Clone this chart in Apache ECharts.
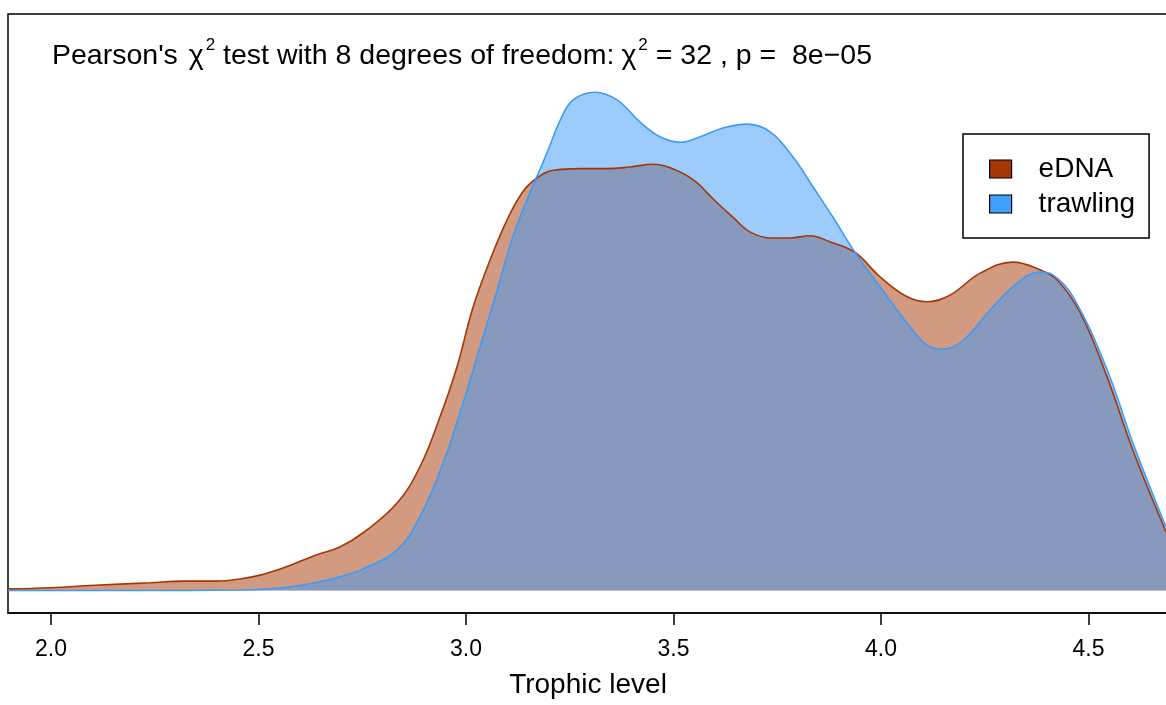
<!DOCTYPE html>
<html>
<head>
<meta charset="utf-8">
<script src="https://cdn.jsdelivr.net/npm/echarts@6/dist/echarts.min.js"></script>
<style>
html,body{margin:0;padding:0;background:#fff;}
#chart{width:1166px;height:705px;}
</style>
</head>
<body>
<div id="chart"></div>
<script>
// ---- data (trophic level vs density estimate) ----
var ednaX = [1.896, 1.998, 2.118, 2.239, 2.318, 2.400, 2.455, 2.504, 2.559, 2.641, 2.696, 2.752, 2.834, 2.889, 2.937, 2.978, 3.017, 3.058, 3.099, 3.137, 3.171, 3.210, 3.275, 3.340, 3.395, 3.451, 3.516, 3.557, 3.581, 3.605, 3.643, 3.684, 3.733, 3.781, 3.829, 3.877, 3.937, 3.998, 4.063, 4.111, 4.166, 4.239, 4.318, 4.383, 4.424, 4.480, 4.545, 4.607, 4.687];
var ednaY = [0.003, 0.005, 0.010, 0.014, 0.017, 0.017, 0.021, 0.028, 0.041, 0.065, 0.079, 0.105, 0.159, 0.225, 0.315, 0.406, 0.515, 0.601, 0.674, 0.725, 0.750, 0.764, 0.767, 0.767, 0.770, 0.775, 0.761, 0.741, 0.723, 0.705, 0.679, 0.652, 0.641, 0.641, 0.645, 0.634, 0.615, 0.570, 0.534, 0.525, 0.537, 0.577, 0.597, 0.583, 0.565, 0.505, 0.388, 0.255, 0.106];
var trawlX = [1.896, 2.200, 2.455, 2.559, 2.641, 2.696, 2.745, 2.834, 2.889, 2.945, 2.993, 3.034, 3.075, 3.113, 3.154, 3.178, 3.198, 3.227, 3.258, 3.311, 3.364, 3.419, 3.467, 3.516, 3.564, 3.619, 3.677, 3.733, 3.788, 3.836, 3.884, 3.937, 3.998, 4.063, 4.111, 4.149, 4.198, 4.263, 4.328, 4.383, 4.414, 4.463, 4.545, 4.607, 4.687];
var trawlY = [0.000, 0.000, 0.001, 0.005, 0.015, 0.025, 0.037, 0.074, 0.134, 0.232, 0.341, 0.443, 0.546, 0.643, 0.723, 0.765, 0.801, 0.855, 0.892, 0.906, 0.892, 0.852, 0.825, 0.815, 0.825, 0.841, 0.848, 0.834, 0.788, 0.734, 0.679, 0.615, 0.552, 0.486, 0.446, 0.439, 0.455, 0.510, 0.559, 0.579, 0.574, 0.534, 0.401, 0.268, 0.115];
var xTicks = [2.0, 2.5, 3.0, 3.5, 4.0, 4.5];
var seriesNames = ['eDNA', 'trawling'];

function pairs(xs, ys) { return xs.map(function (x, i) { return [x, ys[i]]; }); }

var FONT = "'Liberation Sans', Arial, Helvetica, sans-serif";
var brown = '#A63603';
var blue = '#3D9BF8';

var chart = echarts.init(document.getElementById('chart'), null, {renderer: 'canvas'});
chart.setOption({
  animation: false,
  backgroundColor: '#fff',
  textStyle: {fontFamily: FONT},
  title: {
    left: 52, top: 37, padding: 0,
    text: "{n|Pearson's }{c|χ}{s|2}{n| test with 8 degrees of freedom:}{d|χ}{s|2}{n| = 32 , p =  8e−05}",
    textStyle: {
      fontWeight: 'normal',
      rich: {
        n: {fontFamily: FONT, fontSize: 28.5, fontWeight: 'normal', color: '#000', lineHeight: 34, verticalAlign: 'bottom'},
        c: {fontFamily: FONT, fontSize: 28.5, fontWeight: 'normal', color: '#000', lineHeight: 34, verticalAlign: 'bottom', padding: [0, 2, 0, 3]},
        d: {fontFamily: FONT, fontSize: 28.5, fontWeight: 'normal', color: '#000', lineHeight: 34, verticalAlign: 'bottom', padding: [0, 2, 0, 7]},
        s: {fontFamily: FONT, fontSize: 17, fontWeight: 'normal', color: '#000', lineHeight: 17, verticalAlign: 'top'}
      }
    }
  },
  legend: {
    orient: 'vertical',
    left: 963, top: 134,
    padding: [20, 14, 19, 26],
    itemWidth: 22, itemHeight: 18, itemGap: 5,
    borderColor: '#000', borderWidth: 1.5, borderRadius: 0,
    backgroundColor: '#fff',
    textStyle: {fontFamily: FONT, fontSize: 28, color: '#000', lineHeight: 30, padding: [0, 0, 0, 22]},
    data: [
      {name: seriesNames[0], icon: 'rect', itemStyle: {color: brown, borderColor: '#000', borderWidth: 1.2}},
      {name: seriesNames[1], icon: 'rect', itemStyle: {color: '#40A0FF', borderColor: '#000', borderWidth: 1.2}}
    ]
  },
  grid: {
    left: 8, top: 14, right: -2, bottom: 92,
    outerBoundsMode: 'none',
    containLabel: false,
    show: true, borderColor: '#000', borderWidth: 1.5, backgroundColor: 'transparent'
  },
  xAxis: {
    type: 'value',
    min: 2 + (8 - 51) / 415,
    max: 2 + (1168 - 51) / 415,
    name: 'Trophic level',
    nameLocation: 'middle',
    nameGap: 58,
    nameTextStyle: {fontFamily: FONT, fontSize: 28, color: '#000'},
    axisLine: {show: true, onZero: false, lineStyle: {color: '#000', width: 1.5}},
    axisTick: {show: true, length: 12, inside: false, customValues: xTicks, lineStyle: {color: '#000', width: 1.5}},
    axisLabel: {
      show: true, customValues: xTicks, margin: 25,
      fontFamily: FONT, fontSize: 23, color: '#000',
      formatter: function (v) { return v.toFixed(1); }
    },
    splitLine: {show: false}
  },
  yAxis: {
    type: 'value',
    min: -(613 - 590.5) / 550,
    max: (590.5 - 14) / 550,
    show: false,
    splitLine: {show: false}
  },
  series: [
    {
      name: seriesNames[0], type: 'line', smooth: 0.4, showSymbol: false,
      data: pairs(ednaX, ednaY),
      lineStyle: {color: brown, width: 1.6},
      itemStyle: {color: brown},
      areaStyle: {color: 'rgb(166,54,3)', opacity: 0.5, origin: 0}
    },
    {
      name: seriesNames[1], type: 'line', smooth: 0.4, showSymbol: false,
      data: pairs(trawlX, trawlY),
      lineStyle: {color: blue, width: 1.6},
      itemStyle: {color: blue},
      areaStyle: {color: 'rgb(59,151,247)', opacity: 0.5, origin: 0}
    }
  ]
});
</script>
</body>
</html>
